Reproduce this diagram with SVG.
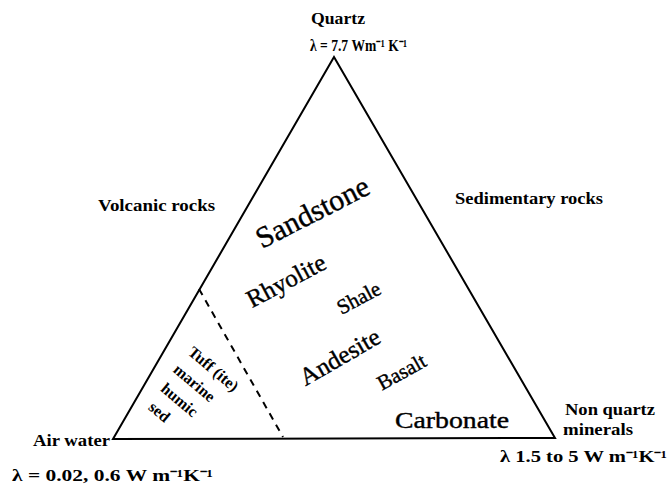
<svg xmlns="http://www.w3.org/2000/svg" width="668" height="490" viewBox="0 0 668 490">
<style>
.lbl{font-family:"Liberation Serif","Times New Roman",serif;font-size:16px;fill:#000;font-weight:bold}
.rock{font-family:"Liberation Serif","Times New Roman",serif;fill:#000;stroke:#000;stroke-width:0.4}
.edge{stroke:#000;stroke-width:2;fill:none}
.dash{stroke:#000;stroke-width:2;fill:none;stroke-dasharray:7,6}
</style>
<rect width="668" height="490" fill="#fff"/>
<g id="connectors">
<polygon class="edge" points="334,57 113,439 555,438"/>
<line class="dash" x1="199" y1="289" x2="283" y2="437"/>
</g>
<g id="quartz">
<text class="lbl" x="311" y="24" textLength="54" lengthAdjust="spacingAndGlyphs">Quartz</text>
<text class="lbl" x="310" y="51" textLength="97" lengthAdjust="spacingAndGlyphs">λ = 7.7 Wm⁻¹ K⁻¹</text>
</g>
<g id="volcanic"><text class="lbl" x="98" y="211" textLength="117" lengthAdjust="spacingAndGlyphs">Volcanic rocks</text></g>
<g id="sedimentary"><text class="lbl" x="455" y="204" textLength="148" lengthAdjust="spacingAndGlyphs">Sedimentary rocks</text></g>
<g id="airwater">
<text class="lbl" x="33" y="446" textLength="77" lengthAdjust="spacingAndGlyphs">Air water</text>
<text class="lbl" x="12" y="481" textLength="201" lengthAdjust="spacingAndGlyphs">λ = 0.02, 0.6  W m⁻¹K⁻¹</text>
</g>
<g id="nonquartz">
<text class="lbl" x="565" y="415" textLength="90" lengthAdjust="spacingAndGlyphs">Non quartz</text>
<text class="lbl" x="563" y="435" textLength="70" lengthAdjust="spacingAndGlyphs">minerals</text>
<text class="lbl" x="500" y="462" textLength="167" lengthAdjust="spacingAndGlyphs">λ  1.5 to 5 W m⁻¹K⁻¹</text>
</g>
<g id="sandstone"><text class="rock" font-size="30" text-anchor="middle" transform="translate(317,221) rotate(-27)">Sandstone</text></g>
<g id="rhyolite"><text class="rock" font-size="25" text-anchor="middle" transform="translate(290,288) rotate(-28)">Rhyolite</text></g>
<g id="shale"><text class="rock" font-size="21" text-anchor="middle" transform="translate(362,304) rotate(-28)">Shale</text></g>
<g id="andesite"><text class="rock" font-size="25" text-anchor="middle" transform="translate(344,364) rotate(-30)">Andesite</text></g>
<g id="basalt"><text class="rock" font-size="21" text-anchor="middle" transform="translate(405,378) rotate(-29)">Basalt</text></g>
<g id="carbonate"><text class="rock" font-size="24" x="395" y="428" textLength="114" lengthAdjust="spacingAndGlyphs">Carbonate</text></g>
<g id="tuff">
<text class="lbl" text-anchor="middle" transform="translate(210,373) rotate(40)">Tuff (ite)</text>
<text class="lbl" text-anchor="middle" transform="translate(191,387) rotate(40)">marine</text>
<text class="lbl" text-anchor="middle" transform="translate(176,404) rotate(40)">humic</text>
<text class="lbl" text-anchor="middle" transform="translate(156,416) rotate(40)">sed</text>
</g>
</svg>
